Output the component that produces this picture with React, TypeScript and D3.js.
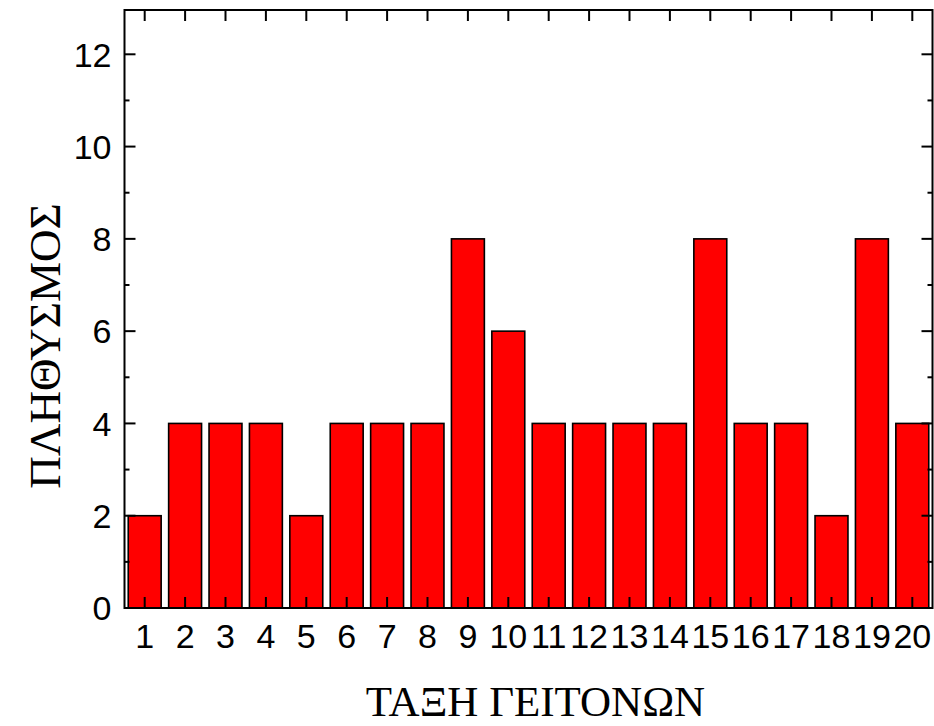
import React, { useRef, useEffect } from "react";
import * as d3 from "d3";

const WIDTH = 934;
const HEIGHT = 726;
const MARGIN = { top: 10, right: 1.5, bottom: 118, left: 124.5 };

const categories = d3.range(1, 21).map(String);
const values = [2, 4, 4, 4, 2, 4, 4, 4, 8, 6, 4, 4, 4, 4, 8, 4, 4, 2, 8, 4];
const yTicks = [0, 2, 4, 6, 8, 10, 12];
const yMinor = [1, 3, 5, 7, 9, 11];

export default function App() {
  const svgRef = useRef<SVGSVGElement | null>(null);

  useEffect(() => {
    const svg = d3.select(svgRef.current);
    svg.selectAll("*").remove();

    const left = MARGIN.left;
    const right = WIDTH - MARGIN.right;
    const top = MARGIN.top;
    const bottom = HEIGHT - MARGIN.bottom;

    const x = d3.scaleBand<string>().domain(categories).range([left, right]).padding(0);
    const y = d3.scaleLinear().domain([0, 12.96]).range([bottom, top]);

    const barW = x.bandwidth() * 0.815;

    // bars
    svg
      .append("g")
      .selectAll("rect")
      .data(values)
      .enter()
      .append("rect")
      .attr("x", (_, i) => x(categories[i])! + x.bandwidth() / 2 - barW / 2)
      .attr("y", (d) => y(d))
      .attr("width", barW)
      .attr("height", (d) => bottom - y(d))
      .attr("fill", "#ff0000")
      .attr("stroke", "#000")
      .attr("stroke-width", 1.6);

    const ticks = svg.append("g").attr("stroke", "#000").attr("stroke-width", 2);

    // x ticks (bottom up, top down)
    categories.forEach((c) => {
      const cx = x(c)! + x.bandwidth() / 2;
      ticks.append("line").attr("x1", cx).attr("x2", cx).attr("y1", bottom).attr("y2", bottom - 11);
      ticks.append("line").attr("x1", cx).attr("x2", cx).attr("y1", top).attr("y2", top + 11);
    });

    // y ticks, both sides
    yTicks.forEach((t) => {
      ticks.append("line").attr("x1", left).attr("x2", left + 11).attr("y1", y(t)).attr("y2", y(t));
      ticks.append("line").attr("x1", right).attr("x2", right - 11).attr("y1", y(t)).attr("y2", y(t));
    });
    yMinor.forEach((t) => {
      ticks.append("line").attr("x1", left).attr("x2", left + 5).attr("y1", y(t)).attr("y2", y(t));
      ticks.append("line").attr("x1", right).attr("x2", right - 5).attr("y1", y(t)).attr("y2", y(t));
    });

    // frame
    svg
      .append("rect")
      .attr("x", left)
      .attr("y", top)
      .attr("width", right - left)
      .attr("height", bottom - top)
      .attr("fill", "none")
      .attr("stroke", "#000")
      .attr("stroke-width", 2);

    // tick labels
    svg
      .append("g")
      .selectAll("text")
      .data(yTicks)
      .enter()
      .append("text")
      .attr("x", left - 13)
      .attr("y", (d) => y(d))
      .attr("dy", "0.36em")
      .attr("text-anchor", "end")
      .attr("font-family", "'Liberation Sans', Arial, sans-serif")
      .attr("font-size", 34)
      .text((d) => d);

    svg
      .append("g")
      .selectAll("text")
      .data(categories)
      .enter()
      .append("text")
      .attr("x", (d) => x(d)! + x.bandwidth() / 2)
      .attr("y", bottom + 40)
      .attr("text-anchor", "middle")
      .attr("font-family", "'Liberation Sans', Arial, sans-serif")
      .attr("font-size", 34)
      .text((d) => d);

    // axis titles
    svg
      .append("text")
      .attr("x", (left + right) / 2 + 7)
      .attr("y", 716)
      .attr("text-anchor", "middle")
      .attr("font-family", "'Liberation Serif', 'Times New Roman', serif")
      .attr("font-size", 43)
      .text("ΤΑΞΗ ΓΕΙΤΟΝΩΝ");

    svg
      .append("text")
      .attr("transform", `translate(60,346) rotate(-90)`)
      .attr("text-anchor", "middle")
      .attr("font-family", "'Liberation Serif', 'Times New Roman', serif")
      .attr("font-size", 45)
      .text("ΠΛΗΘΥΣΜΟΣ");
  }, []);

  return (
    <svg
      ref={svgRef}
      width={WIDTH}
      height={HEIGHT}
      style={{ position: "absolute", left: 0, top: 0, background: "#fff" }}
    />
  );
}
